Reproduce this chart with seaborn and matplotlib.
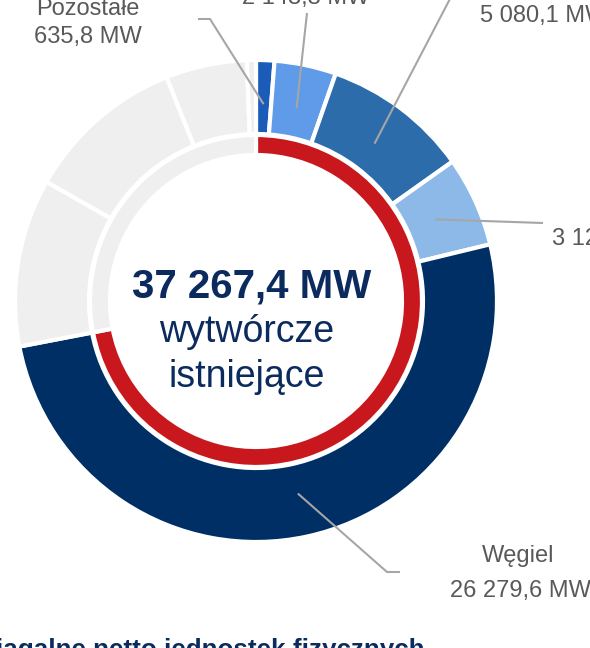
"""Donut: moc osiągalna netto - jednostki wytwórcze istniejące."""

import matplotlib.pyplot as plt
import numpy as np
import seaborn as sns

# data
segment_names = ["Pozostałe", "", "", "", "Węgiel"]
segment_mw = [635.8, 2143.8, 5080.1, 3128.1, 26279.6]
# remaining (grey) part of the outer ring, estimated from the arc lengths
other_mw = [5830.0, 5550.0, 2820.0, 313.0]
total_label = "37 267,4 MW"
center_lines = ["wytwórcze", "istniejące"]
bottom_title = "Moce osiągalne netto jednostek fizycznych"

seg_colors = ["#1B5CB9", "#5F9BE9", "#2C6CAB", "#8DB9E9", "#002F66"]
grey = "#EFEFEF"
red = "#C8181E"
navy = "#0B2A5E"
label_grey = "#595959"
line_grey = "#A6A6A6"

sns.set_theme(style="white")
plt.rcParams["font.family"] = ["Liberation Sans", "DejaVu Sans"]

W, H = 590, 648
fig = plt.figure(figsize=(W / 100, H / 100), dpi=100)
ax = fig.add_axes([0, 0, 1, 1])

cx, cy = 256, H - 301
edge = dict(edgecolor="white", linewidth=3)

# outer ring
outer_vals = segment_mw + other_mw
outer_cols = seg_colors + [grey] * len(other_mw)
ax.pie(outer_vals, colors=outer_cols, radius=241, center=(cx, cy),
       startangle=90, counterclock=False,
       wedgeprops=dict(width=74, **edge))

# inner ring: existing vs rest
ax.pie([sum(segment_mw), sum(other_mw)], colors=[red, grey], radius=166,
       center=(cx, cy), startangle=90, counterclock=False,
       wedgeprops=dict(width=20, **edge))

ax.set_xlim(0, W)
ax.set_ylim(0, H)
ax.set_aspect("equal")
ax.axis("off")


def fmt(v):
    return f"{v:,.1f}".replace(",", " ").replace(".", ",") + " MW"


# leader lines start at mid angle of each wedge
total = sum(outer_vals)
cum = np.cumsum([0] + segment_mw)
mids = (cum[:-1] + cum[1:]) / 2 / total * 2 * np.pi
r0 = 197
starts = [(cx + r0 * np.sin(a), cy + r0 * np.cos(a)) for a in mids]

# label layout (pixel positions, y from top)
leader_paths = [
    [(210, 19), (198, 19)],
    [(307, 13)],
    [(452, -5)],
    [(543, 223)],
    [(387, 572), (400, 572)],
]
for (sx, sy), path in zip(starts, leader_paths):
    xs = [sx] + [p[0] for p in path]
    ys = [sy] + [H - p[1] for p in path]
    ax.plot(xs, ys, color=line_grey, lw=1.5, solid_capstyle="butt")

lab = dict(color=label_grey, fontsize=17, va="baseline")
vals = [fmt(v) for v in segment_mw]
ax.text(88, H - 15, segment_names[0], ha="center", **lab)
ax.text(88, H - 43, vals[0], ha="center", **lab)
ax.text(306, H - 4, vals[1], ha="center", **lab)
ax.text(480, H - 22, vals[2], ha="left", **lab)
ax.text(552, H - 245, vals[3], ha="left", **lab)
ax.text(518, H - 562, segment_names[4], ha="center", **lab)
ax.text(520, H - 597, vals[4], ha="center", **lab)

# centre text
ax.text(cx - 4, H - 297, total_label, ha="center", va="baseline",
        fontsize=29, fontweight="bold", color=navy)
ax.text(cx - 9, H - 342, center_lines[0], ha="center", va="baseline",
        fontsize=27, color=navy)
ax.text(cx - 9, H - 387, center_lines[1], ha="center", va="baseline",
        fontsize=27, color=navy)

# section title below, mostly cropped
ax.text(425, H - 657, bottom_title, ha="right", va="baseline",
        fontsize=18.7, fontweight="bold", color=navy)

fig.savefig("out.png", dpi=100)
